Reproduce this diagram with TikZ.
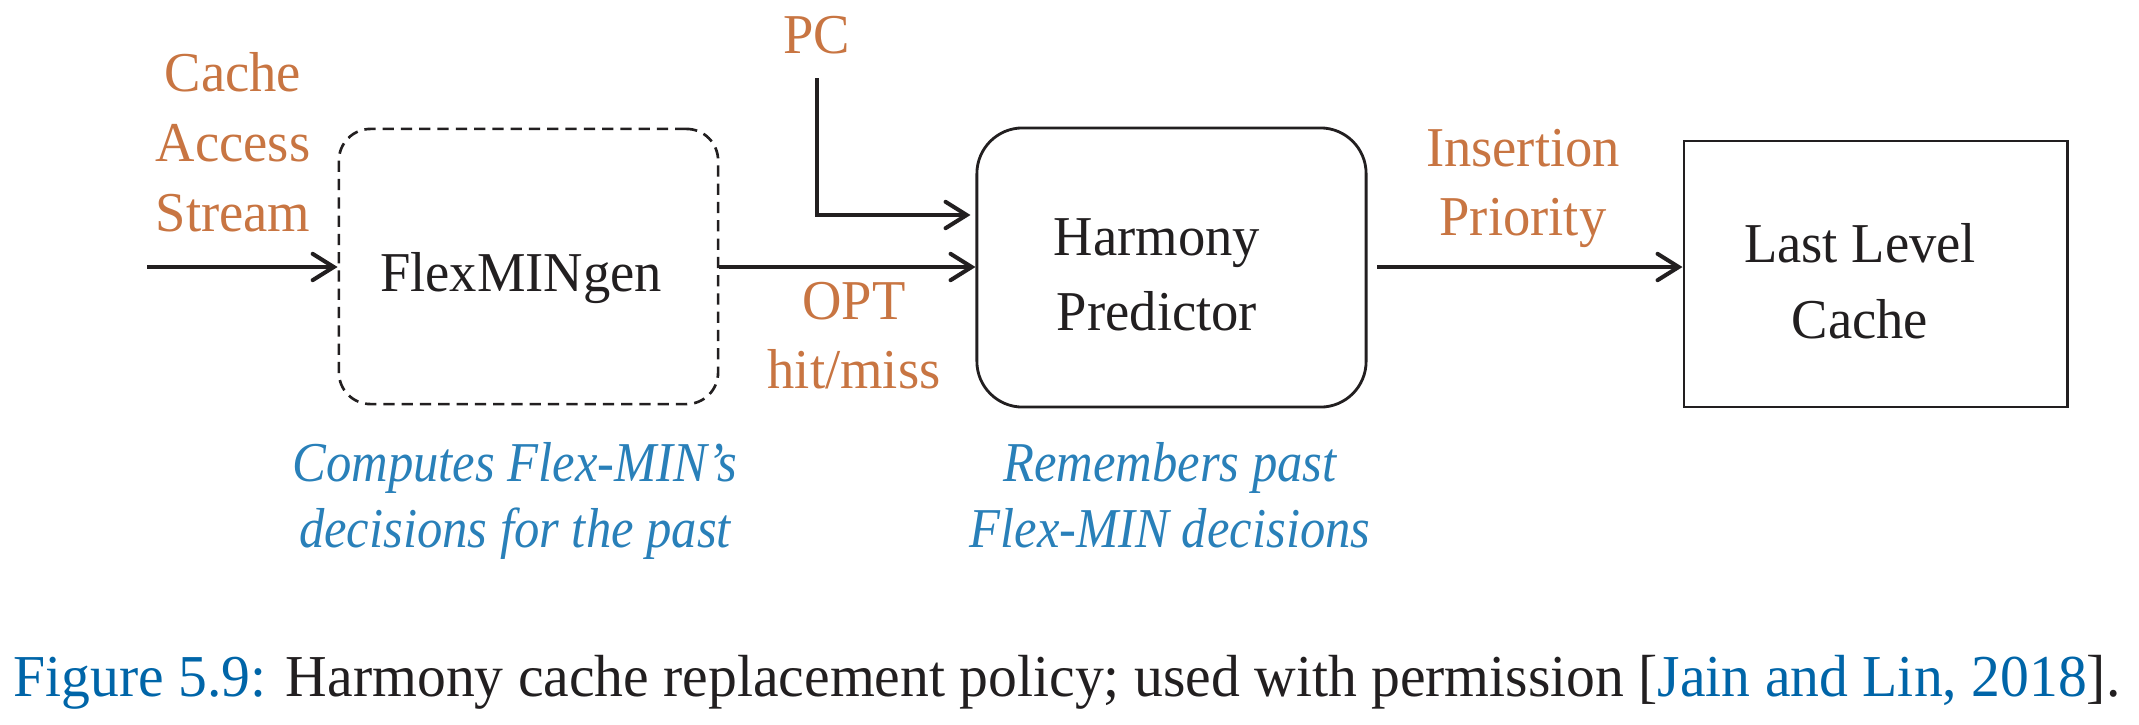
\documentclass[tikz,border=0pt]{standalone}
\usepackage{fontspec}
\setmainfont{Liberation Serif}[FakeStretch=0.97]
\newfontfamily\noteit{Liberation Serif Italic}[FakeStretch=0.9]
\usetikzlibrary{arrows.meta,calc}
\definecolor{labor}{RGB}{200,117,66}
\definecolor{noteblue}{RGB}{41,128,185}
\definecolor{capblue}{RGB}{0,101,168}
\definecolor{ink}{RGB}{34,31,32}
\begin{document}
\begin{tikzpicture}[x=0.01cm,y=-0.01cm,
  lbl/.style={text=labor,inner sep=0pt,anchor=base,align=center},
  note/.style={text=noteblue,inner sep=0pt,anchor=base,align=center,font=\fontsize{16}{18.5}\selectfont\noteit},
  boxtext/.style={text=ink,align=center,inner sep=0pt,anchor=base},
  blockbox/.style={draw=ink,line width=0.8pt,inner sep=0pt},
  arr/.style={draw=ink,line width=1.15pt,-{Straight Barb[length=6pt,width=7.5pt,line cap=round]}},
  ]
\useasboundingbox (0,0) rectangle (2139,724);
% boxes
\node[blockbox,dashed,dash pattern=on 3.2pt off 2pt,line width=0.75pt,rounded corners=9pt,
      minimum width=3.79cm,minimum height=2.75cm] (flex) at (528.5,266.5) {};
\node[blockbox,rounded corners=13pt,
      minimum width=3.89cm,minimum height=2.79cm] (harm) at (1171.5,267.5) {};
\node[blockbox,minimum width=3.83cm,minimum height=2.66cm] (llc) at (1875.5,274) {};
% box texts
\node[boxtext,font=\fontsize{16}{20}\selectfont] (flext) at (521,291) {FlexMINgen};
\node[boxtext,font=\fontsize{16}{21.3}\selectfont] (harmt) at (1157,330) {Harmony\\Predictor};
\node[boxtext,font=\fontsize{16}{21.6}\selectfont] (llct) at (1860,338) {Last Level\\Cache};
% labels
\node[lbl,font=\fontsize{16}{19.9}\selectfont] (cas) at (233,231) {Cache\\Access\\Stream};
\node[lbl,font=\fontsize{16}{19.9}\selectfont] (pc) at (817,53) {PC};
\node[lbl,font=\fontsize{16}{19.6}\selectfont] (opt) at (854,388) {OPT\\hit/miss};
\node[lbl,font=\fontsize{16}{19.6}\selectfont] (ins) at (1523,235) {Insertion\\Priority};
\node[note] (n1) at (515,547) {Computes Flex-MIN’s\\decisions for the past};
\node[note] (n2) at (1170,547) {Remembers past\\Flex-MIN decisions};
% connectors
\coordinate (src) at (147,267);
\coordinate (pctop) at (817,78);
\draw[arr] (src) -- (src -| flex.west);
\draw[arr] (flex.east |- src) -- (src -| harm.west);
\draw[arr] (pctop) |- ($(harm.west)+(-5,-52.5)$);
\draw[arr,shorten <=2.8pt] (harm.east |- src) -- (src -| llc.west);
% caption
\node[inner sep=0pt,anchor=base west,text=ink,font=\fontsize{16.9}{20}\selectfont] (cap) at (13,696)
  {\textcolor{capblue}{Figure 5.9:} Harmony cache replacement policy; used with permission [\textcolor{capblue}{Jain and Lin, 2018}].};
\end{tikzpicture}
\end{document}
